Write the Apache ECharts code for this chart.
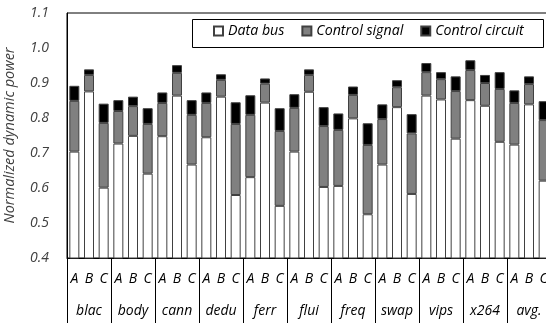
<!DOCTYPE html>
<html><head><meta charset="utf-8">
<script src="https://cdn.jsdelivr.net/npm/echarts@6/dist/echarts.min.js"></script>
<style>html,body{margin:0;padding:0;background:#fff}#c{width:546px;height:323px}</style>
</head><body><div id="c"></div>
<script>
const groups = ['blac','body','cann','dedu','ferr','flui','freq','swap','vips','x264','avg.'];
const variants = ['A','B','C'];
const yTicks = [0.4,0.5,0.6,0.7,0.8,0.9,1.0,1.1];
const dataBus = [0.704,0.876,0.601, 0.727,0.749,0.641, 0.748,0.864,0.667, 0.745,0.861,0.580,
  0.631,0.844,0.549, 0.704,0.875,0.603, 0.606,0.799,0.525, 0.667,0.831,0.583,
  0.864,0.853,0.741, 0.851,0.835,0.732, 0.724,0.839,0.621];
const controlSignal = [0.145,0.047,0.185, 0.093,0.085,0.142, 0.095,0.065,0.142, 0.098,0.048,0.203,
  0.178,0.054,0.214, 0.125,0.048,0.174, 0.160,0.067,0.198, 0.130,0.057,0.173,
  0.067,0.058,0.136, 0.086,0.065,0.151, 0.119,0.058,0.173];
const controlCircuit = [0.043,0.016,0.055, 0.031,0.027,0.045, 0.030,0.022,0.042, 0.030,0.016,0.062,
  0.056,0.015,0.065, 0.039,0.016,0.054, 0.047,0.024,0.062, 0.042,0.020,0.055,
  0.026,0.020,0.042, 0.028,0.023,0.048, 0.036,0.022,0.054];

const cats = [];
groups.forEach(g => variants.forEach(v => cats.push(v)));
const font = '"Open Sans", sans-serif';
const txt = '#404040';
const chart = echarts.init(document.getElementById('c'), null, {renderer:'canvas'});
const mk = (name, data, color) => ({
  name, type:'bar', stack:'s', data, barWidth:10, xAxisIndex:0,
  itemStyle:{color, borderColor:'#404040', borderWidth:1}, emphasis:{disabled:true}
});
chart.setOption({
  animation:false,
  textStyle:{fontFamily:font},
  grid:{left:67, top:13, width:484, height:245, show:true, borderColor:'#000', borderWidth:1,
        outerBoundsMode:'none', containLabel:false},
  graphic:[{type:'rect', left:192, top:19, z:3, silent:true,
    shape:{width:351, height:28}, style:{fill:'#fff', stroke:'#000', lineWidth:1}}],
  legend:{
    left:213, top:24, padding:0, itemGap:17, itemWidth:9, itemHeight:9, icon:'rect', z:5,
    textStyle:{fontFamily:font, fontStyle:'italic', fontSize:14.2, color:'#000'},
    data:['Data bus','Control signal','Control circuit']
  },
  xAxis:[
    {type:'category', data:cats, gridIndex:0, position:'bottom',
     axisLine:{show:true, lineStyle:{color:'#000'}}, axisTick:{show:false},
     axisLabel:{interval:0, margin:14, fontStyle:'italic', fontSize:14, color:'#000'}},
    {type:'category', data:groups, gridIndex:0, position:'bottom',
     axisLine:{show:false}, axisTick:{show:true, length:66, interval:0, lineStyle:{color:'#000'}},
     axisLabel:{interval:0, margin:46, fontStyle:'italic', fontSize:14, color:'#000'}}
  ],
  yAxis:{type:'value', min:yTicks[0], max:yTicks[yTicks.length-1], interval:0.1,
    name:'Normalized dynamic power', nameLocation:'middle', nameGap:50,
    nameTextStyle:{fontStyle:'italic', fontSize:14.5, color:txt},
    axisLine:{show:true, lineStyle:{color:'#000'}}, axisTick:{show:false}, splitLine:{show:false},
    axisLabel:{margin:18, fontStyle:'italic', fontSize:14, color:txt, formatter:v=>v.toFixed(1)}},
  series:[
    mk('Data bus', dataBus, '#ffffff'),
    mk('Control signal', controlSignal, '#808080'),
    mk('Control circuit', controlCircuit, '#000000')
  ]
});
</script></body></html>
